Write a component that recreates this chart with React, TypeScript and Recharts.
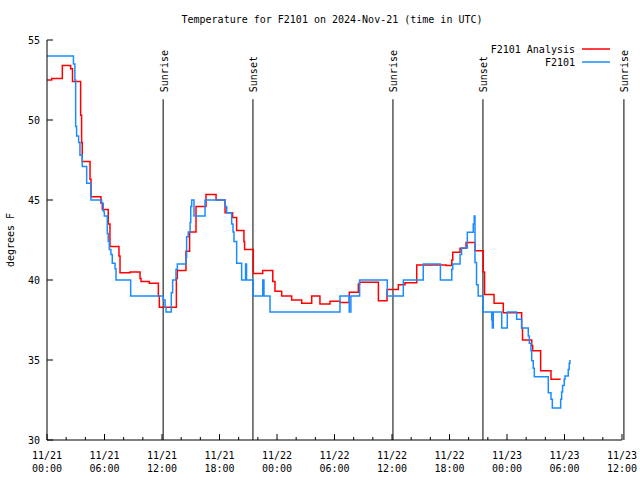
import React from 'react';
import { LineChart, Line, XAxis, YAxis, ReferenceLine, Legend } from 'recharts';

const analysisHours = [0, 0.49, 1.6, 2.47, 2.66, 3.51, 3.61, 3.68, 4.49, 4.59, 5.63, 5.77, 6.39, 6.57, 7.51, 7.62, 8.66, 9.71, 9.81, 10.67, 11.62, 11.72, 13.5, 13.6, 14.5, 14.88, 15.55, 16.59, 17.64, 18.58, 19.37, 19.79, 20.55, 20.62, 21.53, 22.51, 23.56, 23.79, 24.49, 25.53, 26.58, 27.62, 28.48, 29.53, 30.57, 31.54, 32.49, 32.62, 34.58, 35.48, 36.66, 37.35, 38.58, 41.64, 42.24, 42.34, 43.1, 43.73, 44.66, 45.52, 45.66, 46.65, 47.61, 49.53, 49.62, 50.58, 50.68, 51.51, 52.59, 53.6];
const analysisTemps = [52.5, 52.6, 53.4, 53.2, 52.4, 50.3, 48.6, 47.4, 46.3, 45.2, 44.8, 44.4, 43.5, 42.1, 41.5, 40.45, 40.5, 40.1, 39.9, 39.8, 39.0, 38.3, 40.1, 40.6, 41.8, 43.0, 44.6, 45.35, 45.0, 44.2, 43.9, 43.1, 42.4, 41.9, 40.4, 40.6, 39.9, 39.3, 39.0, 38.75, 38.55, 39.0, 38.5, 38.67, 38.6, 39.23, 39.75, 39.86, 38.7, 39.4, 39.7, 39.83, 40.94, 40.9, 41.25, 41.73, 41.98, 42.35, 41.83, 40.5, 39.1, 38.54, 37.95, 37.0, 36.25, 35.9, 35.58, 34.33, 33.8, 33.8];

const obsHours = [0, 2.76, 2.91, 2.99, 3.09, 3.3, 3.44, 3.68, 4.14, 4.59, 5.7, 5.87, 5.98, 6.29, 6.39, 6.5, 6.67, 6.81, 7.1, 7.2, 8.73, 12.14, 12.32, 12.42, 12.97, 13.11, 13.46, 13.6, 14.5, 14.57, 14.74, 14.93, 15.0, 15.1, 15.34, 16.49, 18.58, 18.75, 19.27, 19.41, 19.51, 19.79, 20.31, 20.72, 20.82, 21.53, 22.51, 22.64, 23.27, 30.57, 31.54, 31.71, 32.62, 35.51, 37.18, 39.26, 41.05, 42.24, 42.34, 43.1, 43.26, 43.86, 44.48, 44.58, 44.66, 44.82, 44.99, 45.52, 46.41, 46.47, 46.57, 47.45, 48.03, 49.01, 49.53, 50.22, 50.33, 50.5, 50.58, 50.74, 50.85, 52.31, 52.59, 52.73, 53.6, 53.7, 53.8, 53.97, 54.05, 54.39, 54.49, 54.57];
const obsTemps = [54.0, 53.5, 52.5, 49.6, 49.0, 48.6, 47.8, 47.1, 46.05, 45.0, 44.8, 44.3, 44.0, 42.9, 42.4, 41.9, 41.6, 41.05, 40.7, 40.0, 39.0, 38.75, 38.3, 38.0, 39.2, 40.0, 40.67, 41.0, 41.4, 42.7, 43.0, 43.6, 44.6, 45.0, 44.0, 45.0, 44.6, 44.2, 43.5, 43.0, 42.4, 41.04, 40.0, 41.0, 40.0, 39.0, 40.0, 39.0, 38.0, 39.0, 38.0, 39.0, 40.0, 39.0, 40.0, 41.0, 40.0, 40.67, 41.0, 41.6, 42.0, 42.98, 43.5, 44.0, 41.1, 39.7, 39.0, 38.0, 37.5, 37.0, 38.0, 37.0, 38.0, 37.54, 37.0, 36.5, 36.04, 35.58, 34.96, 34.48, 33.96, 32.96, 32.55, 32.0, 32.55, 33.0, 33.4, 33.8, 34.0, 34.4, 34.8, 35.0];

const majorTicks = [0, 6, 12, 18, 24, 30, 36, 42, 48, 54, 60];
const allXTicks = [0, 2, 4, 6, 8, 10, 12, 14, 16, 18, 20, 22, 24, 26, 28, 30, 32, 34, 36, 38, 40, 42, 44, 46, 48, 50, 52, 54, 56, 58, 60];
const dayLabels = ['11/21', '11/21', '11/21', '11/21', '11/22', '11/22', '11/22', '11/22', '11/23', '11/23', '11/23'];
const timeLabels = ['00:00', '06:00', '12:00', '18:00', '00:00', '06:00', '12:00', '18:00', '00:00', '06:00', '12:00'];
const yTicks = [30, 35, 40, 45, 50, 55];

const sunHours = [12.12, 21.49, 36.1, 45.49, 60.2];
const sunLabels = ['Sunrise', 'Sunset', 'Sunrise', 'Sunset', 'Sunrise'];

const seriesNames = ['F2101 Analysis', 'F2101'];
const seriesColors = ['#ff0000', '#1a8cff'];

const analysisData = analysisHours.map((h, i) => ({ h, v: analysisTemps[i] }));
const obsData = obsHours.map((h, i) => ({ h, v: obsTemps[i] }));

const FONT = '"DejaVu Sans Mono", monospace';

const BottomTick = (props: any) => {
  const { x, y, payload } = props;
  const v = payload.value;
  const idx = majorTicks.indexOf(v);
  const major = idx >= 0;
  return (
    <g>
      <line x1={x} y1={y} x2={x} y2={y - (major ? 6 : 3)} stroke="#000" />
      {major && (
        <text x={x} y={y + 19} textAnchor="middle" fontFamily={FONT} fontSize={10} fill="#000">
          <tspan x={x}>{dayLabels[idx]}</tspan>
          <tspan x={x} dy={13}>{timeLabels[idx]}</tspan>
        </text>
      )}
    </g>
  );
};

const TopTick = (props: any) => {
  const { x, y, payload } = props;
  const major = majorTicks.indexOf(payload.value) >= 0;
  return <line x1={x} y1={y} x2={x} y2={y + (major ? 6 : 3)} stroke="#000" />;
};

const LeftTick = (props: any) => {
  const { x, y, payload } = props;
  return (
    <g>
      <line x1={x} y1={y} x2={x + 6} y2={y} stroke="#000" />
      <text x={x - 7} y={y} dy="0.35em" textAnchor="end" fontFamily={FONT} fontSize={10} fill="#000">
        {payload.value}
      </text>
    </g>
  );
};

const RightTick = (props: any) => {
  const { x, y } = props;
  return <line x1={x} y1={y} x2={x - 6} y2={y} stroke="#000" />;
};

const makeSunLabel = (text: string) => (props: any) => {
  const vb = props.viewBox || { x: 0, y: 0 };
  const x = vb.x + 4.5;
  const y = vb.y - 7;
  return (
    <text transform={`translate(${x},${y}) rotate(-90)`} textAnchor="start" fontFamily={FONT} fontSize={10} fill="#000">
      {text}
    </text>
  );
};

const renderLegend = () => (
  <svg width={140} height={32}>
    {seriesNames.map((name, i) => (
      <g key={name}>
        <text x={95} y={13 + i * 13} textAnchor="end" fontFamily={FONT} fontSize={10} fill="#000">
          {name}
        </text>
        <line x1={102} x2={130} y1={9 + i * 13} y2={9 + i * 13} stroke={seriesColors[i]} strokeWidth={1.5} />
      </g>
    ))}
  </svg>
);

export default function App() {
  return (
    <div style={{ position: 'absolute', left: 0, top: 0, width: 640, height: 480, background: '#fff' }}>
      <LineChart width={640} height={480} margin={{ top: 40, right: 18, bottom: 0, left: 0 }}>
        <XAxis
          xAxisId="bottom"
          dataKey="h"
          type="number"
          domain={[0, 60]}
          ticks={allXTicks}
          interval={0}
          height={40}
          tickSize={0}
          tickMargin={0}
          tickLine={false}
          axisLine={{ stroke: '#000' }}
          tick={<BottomTick />}
          allowDataOverflow
        />
        <XAxis
          xAxisId="top"
          orientation="top"
          dataKey="h"
          type="number"
          domain={[0, 60]}
          ticks={allXTicks}
          interval={0}
          height={0}
          tickSize={0}
          tickMargin={0}
          tickLine={false}
          axisLine={{ stroke: '#000' }}
          tick={<TopTick />}
          allowDataOverflow
        />
        <YAxis
          yAxisId="left"
          type="number"
          domain={[30, 55]}
          ticks={yTicks}
          interval={0}
          width={47}
          tickSize={0}
          tickMargin={0}
          tickLine={false}
          axisLine={{ stroke: '#000' }}
          tick={<LeftTick />}
          allowDataOverflow
        />
        <YAxis
          yAxisId="right"
          orientation="right"
          type="number"
          domain={[30, 55]}
          ticks={yTicks}
          interval={0}
          width={0}
          tickSize={0}
          tickMargin={0}
          tickLine={false}
          axisLine={{ stroke: '#000' }}
          tick={<RightTick />}
          allowDataOverflow
        />
        {sunHours.map((h, i) => (
          <ReferenceLine
            key={`sun-${i}`}
            xAxisId="bottom"
            yAxisId="left"
            segment={[{ x: h, y: 30 }, { x: h, y: 51.3 }]}
            stroke="#000"
            strokeWidth={1}
            ifOverflow="visible"
            label={makeSunLabel(sunLabels[i])}
          />
        ))}
        <Line
          xAxisId="bottom"
          yAxisId="left"
          data={analysisData}
          dataKey="v"
          name={seriesNames[0]}
          type="stepAfter"
          stroke={seriesColors[0]}
          strokeWidth={1.5}
          dot={false}
          isAnimationActive={false}
        />
        <Line
          xAxisId="bottom"
          yAxisId="left"
          data={obsData}
          dataKey="v"
          name={seriesNames[1]}
          type="stepAfter"
          stroke={seriesColors[1]}
          strokeWidth={1.5}
          dot={false}
          isAnimationActive={false}
        />
        <Legend
          layout="vertical"
          align="center"
          verticalAlign="middle"
          content={renderLegend}
          wrapperStyle={{ position: 'absolute', left: 480, top: 40, width: 140, height: 32 }}
        />
      </LineChart>
      <svg width={640} height={480} style={{ position: 'absolute', left: 0, top: 0, pointerEvents: 'none' }}>
        <text x={332} y={23} textAnchor="middle" fontFamily={FONT} fontSize={10} fill="#000">
          Temperature for F2101 on 2024-Nov-21 (time in UTC)
        </text>
        <text transform="translate(14,240) rotate(-90)" textAnchor="middle" fontFamily={FONT} fontSize={10} fill="#000">
          degrees F
        </text>
      </svg>
    </div>
  );
}
